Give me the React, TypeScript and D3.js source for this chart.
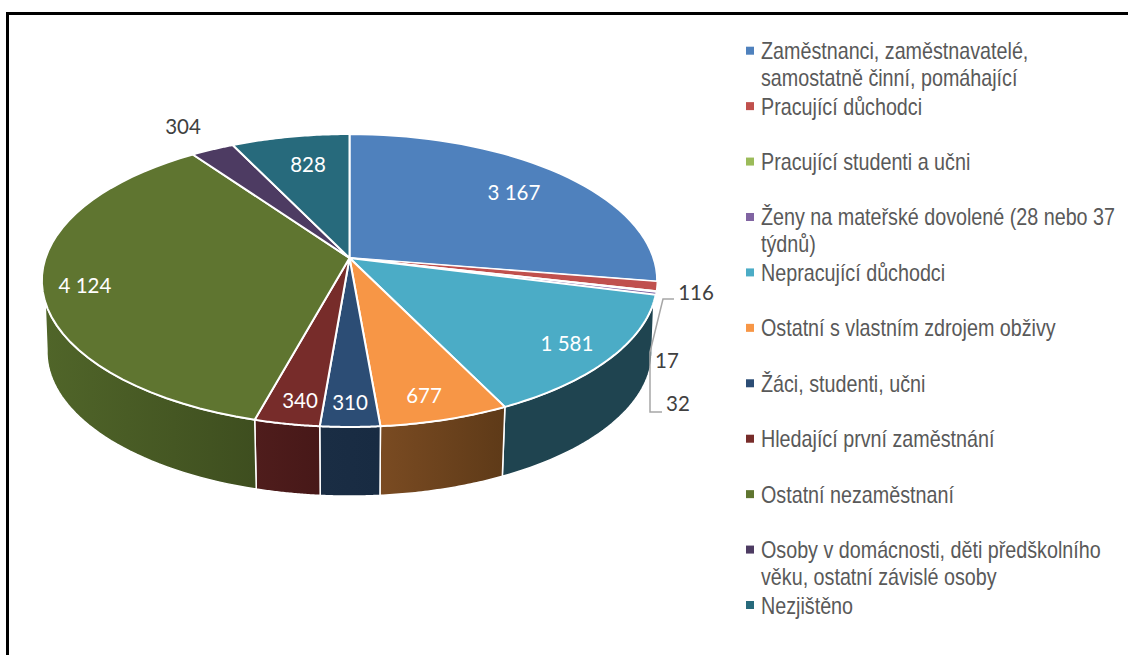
import React from "react";
import * as d3 from "d3";

const categories = [
  "Zaměstnanci, zaměstnavatelé,|samostatně činní, pomáhající",
  "Pracující důchodci",
  "Pracující studenti a učni",
  "Ženy na mateřské dovolené (28 nebo 37|týdnů)",
  "Nepracující důchodci",
  "Ostatní s vlastním zdrojem obživy",
  "Žáci, studenti, učni",
  "Hledající první zaměstnání",
  "Ostatní nezaměstnaní",
  "Osoby v domácnosti, děti předškolního|věku, ostatní závislé osoby",
  "Nezjištěno",
];
const values = [3167, 116, 17, 32, 1581, 677, 310, 340, 4124, 304, 828];
const valueLabels = ["3 167", "116", "17", "32", "1 581", "677", "310", "340", "4 124", "304", "828"];
const topColors = ["#4f81bd", "#c0504d", "#9bbb59", "#8064a2", "#4bacc6", "#f79646", "#2c4d75", "#772c2a", "#5f7530", "#4d3b62", "#276a7c"];
const wallLeft = ["#2f4d71", "#73302e", "#5d7035", "#4c3c61", "#1f4450", "#7a4b22", "#1a2d44", "#4f1d1c", "#506529", "#2e233a", "#173f4a"];
const wallRight = ["#2f4d71", "#73302e", "#5d7035", "#4c3c61", "#1f4450", "#5e3a18", "#182b42", "#471818", "#3e4e1f", "#2e233a", "#173f4a"];
const labelColors = ["#fff", "#404040", "#404040", "#404040", "#fff", "#fff", "#fff", "#fff", "#fff", "#404040", "#fff"];
const labelPos: [number, number][] = [[514, 200], [696, 300], [667, 368], [678, 411], [567, 351], [424, 403], [350, 410], [300, 408], [85, 293], [183, 134], [308, 172]];

const W = 1128, H = 655;
const cx = 349.5, cy = 258;
const persp = 0.1536;
const deg = Math.PI / 180;

// perspective projection of a point on a unit circle (angle clockwise from the top)
const project = (a: number, r: number, A: number, B: number, y0: number): [number, number] => {
  const X = r * Math.sin(a), Yv = -r * Math.cos(a);
  const w = 1 - persp * Yv;
  return [cx + (A * X) / w, y0 + (B * Yv) / w];
};
const top = (a: number, r = 1) => project(a, r, 304, 143, cy);
const bottom = (a: number) => project(a, 1, 299, 141, cy + 71.5);

const pie = d3.pie<number>().sort(null).value((d) => d);
const arcs = pie(values);
const line = d3.line();
const steps = (a0: number, a1: number) => d3.range(0, 41).map((i) => a0 + ((a1 - a0) * i) / 40);

const topPath = (a0: number, a1: number) =>
  line([[cx, cy], ...steps(a0, a1).map((a) => top(a))])! + "Z";

// visible part of the rim: the silhouette runs from the upper disc to the tangent of the lower one
const wallMin = 107 * deg, wallMax = 253 * deg;
const lowerMin = 98 * deg, lowerMax = 262 * deg;
const wallPath = (a0: number, a1: number) => {
  const b0 = a0 === wallMin ? lowerMin : a0;
  const b1 = a1 === wallMax ? lowerMax : a1;
  return line([...steps(a0, a1).map((a) => top(a)), ...steps(b1, b0).map((a) => bottom(a))])! + "Z";
};

const legendY = d3.scalePoint<number>().domain(d3.range(categories.length)).range([50.7, 605]);

export default function App() {
  return (
    <svg width={W} height={H} viewBox={`0 0 ${W} ${H}`} style={{ position: "absolute", left: 0, top: 0, background: "#fff" }}>
      <defs>
        {arcs.map((_, i) => (
          <linearGradient key={i} id={`wall${i}`} x1="0" x2="1" y1="0" y2="0">
            <stop offset="0" stopColor={wallLeft[i]} />
            <stop offset="1" stopColor={wallRight[i]} />
          </linearGradient>
        ))}
      </defs>
      <path d={`M7.5 ${H}V13.5H${W}`} fill="none" stroke="#000" strokeWidth={3} />

      {arcs.map((d, i) => {
        const a0 = Math.max(d.startAngle, wallMin), a1 = Math.min(d.endAngle, wallMax);
        if (a1 <= a0) return null;
        return <path key={i} d={wallPath(a0, a1)} fill={`url(#wall${i})`} stroke="#fff" strokeWidth={1.5} strokeLinejoin="round" />;
      })}
      {arcs.map((d, i) => (
        <path key={i} d={topPath(d.startAngle, d.endAngle)} fill={topColors[i]} stroke="#fff" strokeWidth={i >= 1 && i <= 3 ? 1.2 : 2} strokeLinejoin="round" />
      ))}

      <polyline points="674,299 663,299 650,352 650,412 662,412" fill="none" stroke="#a6a6a6" strokeWidth={1.5} />

      <g fontFamily="Lato" fontSize={20.5} textAnchor="middle">
        {valueLabels.map((t, i) => (
          <text key={i} x={labelPos[i][0]} y={labelPos[i][1]} fill={labelColors[i]}>{t}</text>
        ))}
      </g>

      <g fontFamily="'Liberation Sans'" fontSize={23} fill="#595959">
        {categories.map((c, i) => {
          const y = legendY(i)!;
          return (
            <g key={i}>
              <rect x={746} y={y - 4} width={8} height={8} fill={topColors[i]} />
              {c.split("|").map((t, j) => (
                <text key={j} transform={`translate(761 ${y + 8.5 + j * 27}) scale(0.858 1)`}>{t}</text>
              ))}
            </g>
          );
        })}
      </g>
    </svg>
  );
}
